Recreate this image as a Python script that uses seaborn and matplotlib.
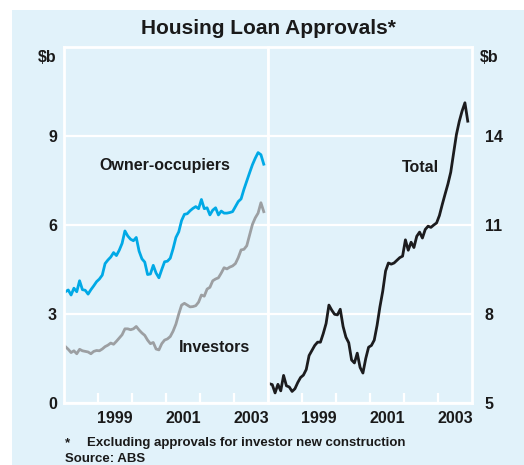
import numpy as np
import pandas as pd
import matplotlib.pyplot as plt
import matplotlib.transforms as mtransforms
from matplotlib.patches import Rectangle
import seaborn as sns

# monthly housing loan approvals, $b, Jan 1998 - Nov 2003
owner_occupiers = [3.75, 3.81, 3.64, 3.87, 3.75, 4.12, 3.82, 3.80, 3.67, 3.82, 3.95, 4.09,
                   4.18, 4.31, 4.70, 4.82, 4.92, 5.07, 4.97, 5.15, 5.38, 5.80, 5.63, 5.52,
                   5.47, 5.58, 5.12, 4.86, 4.75, 4.33, 4.35, 4.64, 4.38, 4.22, 4.50, 4.76,
                   4.78, 4.88, 5.20, 5.58, 5.77, 6.15, 6.36, 6.38, 6.48, 6.56, 6.62, 6.55,
                   6.86, 6.55, 6.58, 6.34, 6.50, 6.58, 6.34, 6.47, 6.40, 6.40, 6.42, 6.45,
                   6.62, 6.79, 6.88, 7.20, 7.48, 7.76, 8.03, 8.25, 8.44, 8.37, 8.05]
investors = [1.90, 1.81, 1.70, 1.76, 1.66, 1.81, 1.76, 1.74, 1.72, 1.66, 1.74, 1.77,
             1.76, 1.82, 1.90, 1.95, 2.02, 1.98, 2.08, 2.19, 2.30, 2.50, 2.50, 2.47,
             2.50, 2.58, 2.46, 2.36, 2.28, 2.12, 2.00, 2.04, 1.82, 1.79, 2.00, 2.12,
             2.16, 2.24, 2.42, 2.66, 3.00, 3.30, 3.36, 3.30, 3.24, 3.25, 3.28, 3.40,
             3.64, 3.60, 3.84, 3.90, 4.12, 4.18, 4.22, 4.38, 4.56, 4.52, 4.58, 4.62,
             4.70, 4.90, 5.16, 5.18, 5.30, 5.66, 6.02, 6.24, 6.40, 6.75, 6.45]
total = [5.65, 5.62, 5.34, 5.63, 5.41, 5.93, 5.58, 5.54, 5.39, 5.48, 5.69, 5.86,
         5.94, 6.13, 6.60, 6.77, 6.94, 7.05, 7.05, 7.34, 7.68, 8.30, 8.13, 7.99,
         7.97, 8.16, 7.58, 7.22, 7.03, 6.45, 6.35, 6.68, 6.20, 6.01, 6.50, 6.88,
         6.94, 7.12, 7.62, 8.24, 8.77, 9.45, 9.72, 9.68, 9.72, 9.81, 9.90, 9.95,
         10.50, 10.15, 10.42, 10.24, 10.62, 10.76, 10.56, 10.85, 10.96, 10.92, 11.00, 11.07,
         11.32, 11.69, 12.04, 12.38, 12.78, 13.42, 14.05, 14.49, 14.84, 15.12, 14.50]

dates = pd.date_range('1998-01-01', periods=len(total), freq='MS')
df = pd.DataFrame({
    'year': dates.year + (dates.month - 1) / 12 + 1 / 24,
    'owner': owner_occupiers,
    'investors': investors,
    'total': total,
})

year_labels = ['1999', '2001', '2003']
left_ticks = [0, 3, 6, 9]
right_ticks = [5, 8, 11, 14]

bg = '#e1f2fa'
blue = '#00a9e6'
grey = '#9c9fa2'
black = '#1c1c1e'
ink = '#1a1a1a'

plt.rcParams['font.family'] = ['Liberation Sans', 'DejaVu Sans']
plt.rcParams['font.weight'] = 'bold'

fig = plt.figure(figsize=(5.24, 4.65), dpi=100)
fig.patch.set_facecolor('white')
fig.patches.append(Rectangle((12 / 524, 0), 1, (465 - 10) / 465, transform=fig.transFigure,
                             facecolor=bg, edgecolor='none', zorder=-10))

ax1 = fig.add_axes([64 / 524, 62 / 465, 204 / 524, 356 / 465])
ax2 = fig.add_axes([268 / 524, 62 / 465, 204 / 524, 356 / 465])

sns.lineplot(data=df, x='year', y='owner', ax=ax1, color=blue, lw=2.0)
sns.lineplot(data=df, x='year', y='investors', ax=ax1, color=grey, lw=2.0)
sns.lineplot(data=df, x='year', y='total', ax=ax2, color=black, lw=2.0)

for ax, lo, ticks in [(ax1, 0, left_ticks), (ax2, 5, right_ticks)]:
    ax.set_facecolor(bg)
    ax.set_xlim(1998, 2004)
    ax.set_ylim(lo, lo + 12)
    ax.set_xlabel('')
    ax.set_ylabel('')
    for s in ax.spines.values():
        s.set_color('white')
        s.set_linewidth(2)
    ax.set_yticks(ticks)
    ax.grid(axis='y', color='white', lw=1.6)
    ax.set_axisbelow(True)
    # year boundaries as inward ticks, labels mid-year
    ax.set_xticks(np.arange(1999, 2004))
    ax.set_xticks([1999.5, 2001.5, 2003.5], minor=True)
    ax.set_xticklabels(year_labels, minor=True)
    ax.tick_params(axis='x', which='major', direction='in', length=7, width=1.6,
                   color='white', labelbottom=False)
    ax.tick_params(axis='x', which='minor', length=0, pad=6, labelsize=11.5,
                   labelcolor=ink)
    ax.tick_params(axis='y', length=0, labelsize=11.5, labelcolor=ink)

ax1.tick_params(axis='y', pad=5)
ax2.yaxis.tick_right()
ax2.tick_params(axis='y', pad=9)

off = mtransforms.ScaledTranslation(0, -10 / 100, fig.dpi_scale_trans)
ax1.text(-0.035, 1, '$b', transform=ax1.transAxes + off, ha='right', va='center',
         fontsize=11.5, color=ink)
ax2.text(1.04, 1, '$b', transform=ax2.transAxes + off, ha='left', va='center',
         fontsize=11.5, color=ink)

ax1.text(2000.97, 8.0, 'Owner-occupiers', ha='center', va='center', fontsize=11.5,
         color=ink)
ax1.text(2002.43, 1.88, 'Investors', ha='center', va='center', fontsize=11.5,
         color=ink)
ax2.text(2002.47, 12.93, 'Total', ha='center', va='center', fontsize=11.5,
         color=ink)

fig.text(268 / 524, 1 - 28 / 465, 'Housing Loan Approvals*', ha='center', va='center',
         fontsize=15, color=ink)
fig.text(65 / 524, 1 - 443 / 465, '*', ha='left', va='center', fontsize=9.5, color=ink)
fig.text(87 / 524, 1 - 443 / 465, 'Excluding approvals for investor new construction',
         ha='left', va='center', fontsize=9.5, color=ink)
fig.text(65 / 524, 1 - 459 / 465, 'Source: ABS', ha='left', va='center', fontsize=9.5,
         color=ink)

fig.savefig('out.png', dpi=100, facecolor=fig.get_facecolor())
